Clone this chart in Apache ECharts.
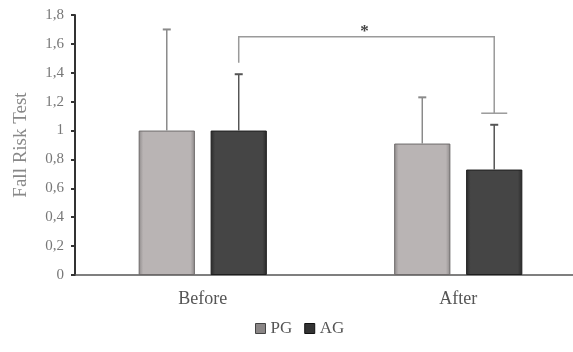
<!DOCTYPE html>
<html>
<head>
<meta charset="utf-8">
<script src="https://cdn.jsdelivr.net/npm/echarts@6/dist/echarts.min.js"></script>
<style>
  html, body { margin: 0; padding: 0; background: #fff; overflow: hidden; }
  /* the plot runs a little past the right edge of the picture, as in the source */
  #main { width: 586px; height: 352px; }
</style>
</head>
<body>
<div id="main"></div>
<script>
// data
const categories = ['Before', 'After']
const pgMean = [1.0, 0.91]
const agMean = [1.0, 0.73]
const pgUpper = [1.70, 1.23]
const agUpper = [1.39, 1.04]
// significance bracket: left end, top, right end (y values)
const bracket = [1.47, 1.65, 1.12]

const BAR_W = 0.22 // share of the band
const BAR_GAP = 0.28 // share of a bar

const serif = '"Liberation Serif", "DejaVu Serif", serif'
const chart = echarts.init(document.getElementById('main'))

// horizontal offset of a bar centre from the category centre
const barOffset = (api, side) => {
  const band = api.size([1, 0])[0]
  const w = band * BAR_W
  return side * (w + w * BAR_GAP) / 2
}

const errorItem = (side, color) => (params, api) => {
  const c0 = api.coord([api.value(0), api.value(1)])
  const c1 = api.coord([api.value(0), api.value(2)])
  const x = c0[0] + barOffset(api, side)
  return {
    type: 'group',
    children: [
      { type: 'line', shape: { x1: x, y1: c0[1], x2: x, y2: c1[1] }, style: { stroke: color, lineWidth: 1.5 } },
      { type: 'line', shape: { x1: x - 4, y1: c1[1], x2: x + 4, y2: c1[1] }, style: { stroke: color, lineWidth: 2 } },
    ],
  }
}

const barStyle = (light, dark, border) => ({
  color: new echarts.graphic.LinearGradient(0, 0, 1, 0, [
    { offset: 0, color: dark },
    { offset: 0.08, color: light },
    { offset: 0.92, color: light },
    { offset: 1, color: dark },
  ]),
  borderColor: border,
  borderWidth: 1,
})

const option = {
  animation: false,
  backgroundColor: '#fff',
  grid: { left: 75, right: 0, top: 15, bottom: 77 },
  legend: {
    bottom: 10,
    left: 250,
    itemWidth: 10,
    itemHeight: 10,
    itemGap: 12,
    textStyle: { fontFamily: serif, fontSize: 17, color: '#555' },
    data: [
      { name: 'PG', icon: 'rect', itemStyle: { color: '#8a8686', borderColor: '#444', borderWidth: 1 } },
      { name: 'AG', icon: 'rect', itemStyle: { color: '#333', borderColor: '#111', borderWidth: 1 } },
    ],
  },
  xAxis: {
    type: 'category',
    data: categories,
    axisLine: { lineStyle: { color: '#555', width: 1.5 } },
    axisTick: { show: false },
    axisLabel: { fontFamily: serif, fontSize: 18, color: '#555', margin: 15 },
  },
  yAxis: {
    type: 'value',
    min: 0,
    max: 1.8,
    interval: 0.2,
    name: 'Fall Risk Test',
    nameLocation: 'middle',
    nameGap: 44,
    nameTextStyle: { fontFamily: serif, fontSize: 19, color: '#888' },
    axisLine: { show: true, lineStyle: { color: '#333', width: 2 } },
    axisTick: { show: true, length: 4, lineStyle: { color: '#333', width: 2 } },
    splitLine: { show: false },
    axisLabel: {
      fontFamily: serif,
      fontSize: 15,
      color: '#777',
      margin: 11,
      formatter: (v) => String(+v.toFixed(1)).replace('.', ','),
    },
  },
  series: [
    {
      name: 'PG',
      type: 'bar',
      data: pgMean,
      barWidth: BAR_W * 100 + '%',
      barGap: BAR_GAP * 100 + '%',
      itemStyle: barStyle('#b9b4b4', '#8e8a8a', '#6e6a6a'),
    },
    {
      name: 'AG',
      type: 'bar',
      data: agMean,
      barWidth: BAR_W * 100 + '%',
      itemStyle: barStyle('#454545', '#2a2a2a', '#1e1e1e'),
    },
    {
      type: 'custom',
      renderItem: errorItem(-1, '#8a8a8a'),
      data: categories.map((c, i) => [i, pgMean[i], pgUpper[i]]),
      z: 5,
    },
    {
      type: 'custom',
      renderItem: errorItem(1, '#555'),
      data: categories.map((c, i) => [i, agMean[i], agUpper[i]]),
      z: 5,
    },
    {
      type: 'custom',
      data: [[0, 1].concat(bracket)],
      z: 6,
      renderItem: (params, api) => {
        const off = barOffset(api, 1)
        const a = api.coord([api.value(0), api.value(2)])
        const top = api.coord([api.value(0), api.value(3)])[1]
        const b = api.coord([api.value(1), api.value(4)])
        const xa = a[0] + off
        const xb = b[0] + off
        const st = { stroke: '#9a9a9a', lineWidth: 1.5, fill: null }
        return {
          type: 'group',
          children: [
            { type: 'polyline', shape: { points: [[xa, a[1]], [xa, top], [xb, top], [xb, b[1]]] }, style: st },
            { type: 'line', shape: { x1: xb - 13, y1: b[1], x2: xb + 13, y2: b[1] }, style: st },
            {
              type: 'text',
              style: {
                text: '*',
                x: (xa + xb) / 2 - 2,
                y: top + 3,
                align: 'center',
                verticalAlign: 'bottom',
                font: 'bold 17px ' + serif,
                fill: '#444',
              },
            },
          ],
        }
      },
    },
  ],
}

chart.setOption(option)
</script>
</body>
</html>
